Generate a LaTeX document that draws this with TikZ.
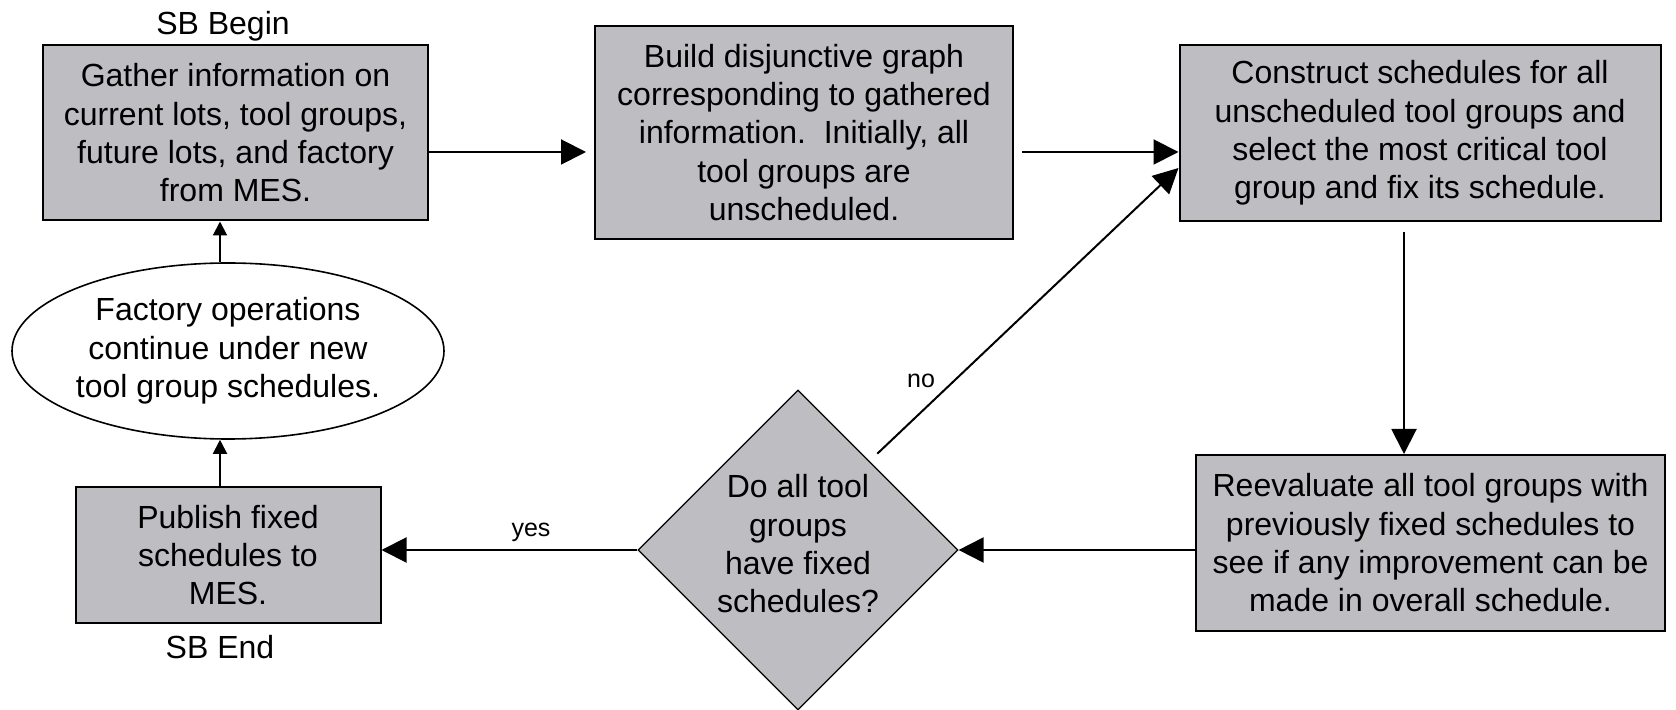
\documentclass[tikz,border=0pt]{standalone}
\usepackage{fontspec}
\setmainfont{Liberation Sans}
\usetikzlibrary{shapes.geometric,arrows.meta}
\definecolor{boxgray}{RGB}{189,189,194}
\begin{document}
\begin{tikzpicture}[x=0.5pt,y=-0.5pt,
  every node/.style={font=\fontsize{16}{19.15}\selectfont, inner sep=0pt},
  procbox/.style={draw, line width=1pt, fill=boxgray, align=center},
  termshape/.style={draw, ellipse, line width=0.8pt, fill=white, align=center},
  decshape/.style={draw, diamond, line width=0.6pt, fill=boxgray},
  smalltext/.style={font=\fontsize{12.5}{15}\selectfont},
  bigarr/.style={line width=1pt, -{Triangle[length=12.5pt,width=12.5pt]}},
  smallarr/.style={line width=1pt, -{Triangle[length=7pt,width=7pt]}}
]
\useasboundingbox (0,0) rectangle (1676,710);

% process steps
\node[procbox, minimum width=192.5pt, minimum height=87.5pt] (b1) at (235.5,133)
  {Gather information on\\current lots, tool groups,\\future lots, and factory\\from MES.};
\node[procbox, minimum width=209pt, minimum height=106.5pt] (b2) at (804,132.5)
  {Build disjunctive graph\\corresponding to gathered\\information.\ \ Initially, all\\tool groups are\\unscheduled.};
\node[procbox, minimum width=240.5pt, minimum height=88pt] (b3) at (1420,133)
  {Construct schedules for all\\unscheduled tool groups and\\select the most critical tool\\group and fix its schedule.};
\node[procbox, minimum width=234.5pt, minimum height=88pt] (b4) at (1430.5,543)
  {Reevaluate all tool groups with\\previously fixed schedules to\\see if any improvement can be\\made in overall schedule.};
\node[procbox, minimum width=152.5pt, minimum height=68pt] (b5) at (228,555)
  {Publish fixed\\schedules to\\MES.};

% factory operations (terminal)
\node[termshape, minimum width=216pt, minimum height=88pt] (e) at (228,351)
  {Factory operations\\continue under new\\tool group schedules.};

% decision
\node[decshape, minimum width=160pt, minimum height=160pt] (d) at (798,550) {};
\node[align=center] (dq) at (798,544) {Do all tool\\groups\\have fixed\\schedules?};

% start / end markers
\node (sbb) at (223,26) {SB Begin};
\node (sbe) at (220,647) {SB End};

% connectors
\coordinate (p12) at ([yshift=-9.5pt]b1.east);
\draw[bigarr, shorten >=4pt] (p12) -- (p12 -| b2.west);
\coordinate (p23) at ([yshift=-9.75pt]b2.east);
\draw[bigarr, shorten <=4pt] (p23) -- (p23 -| b3.west);
\coordinate (p34) at ([xshift=-8pt]b3.south);
\draw[bigarr, shorten <=5pt] (p34) -- (p34 |- b4.north);
\draw[bigarr] (d.east -| b4.west) -- (d.east);
\draw[bigarr] (d.west) -- (d.west -| b5.east);
\draw[bigarr] ([xshift=-0.5pt,yshift=8pt]d.north east) -- ([yshift=-17.5pt]b3.west);
\coordinate (p5e) at ([xshift=-4pt]b5.north);
\draw[smallarr] (p5e) -- (p5e |- e.south);
\coordinate (pe1) at ([xshift=-4pt]e.north);
\draw[smallarr] (pe1) -- (pe1 |- b1.south);

% branch labels
\node[smalltext] (lno) at (921,381) {no};
\node[smalltext] (lyes) at (531,532) {yes};
\end{tikzpicture}
\end{document}
